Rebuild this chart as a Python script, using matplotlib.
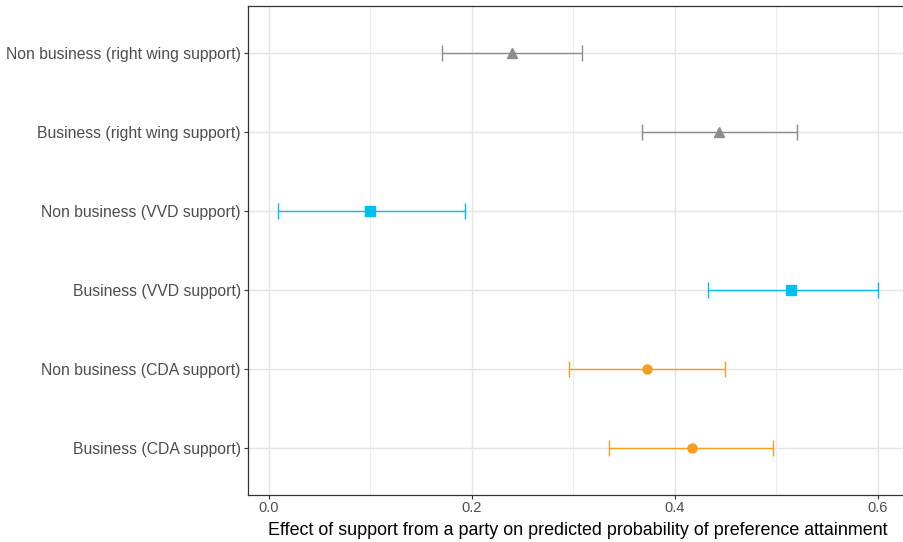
import matplotlib.pyplot as plt
import numpy as np

plt.rcParams['font.family'] = ['Liberation Sans', 'DejaVu Sans']

# rows from top to bottom
labels = ["Non business (right wing support)", "Business (right wing support)",
          "Non business (VVD support)", "Business (VVD support)",
          "Non business (CDA support)", "Business (CDA support)"]
estimate = [0.240, 0.444, 0.100, 0.515, 0.373, 0.417]
lower = [0.171, 0.368, 0.009, 0.433, 0.296, 0.335]
upper = [0.309, 0.521, 0.193, 0.600, 0.450, 0.497]
colors = ["#8C8C8C", "#8C8C8C", "#00BFEF", "#00BFEF", "#F99D1C", "#F99D1C"]
markers = ["^", "^", "s", "s", "o", "o"]

fig = plt.figure(figsize=(9.04, 5.42), dpi=100)
ax = fig.add_axes([247.6 / 904, 1 - 495 / 542, 660 / 904, 489 / 542])

n = len(labels)
ypos = np.arange(n, 0, -1)
for y, est, lo, hi, c, m in zip(ypos, estimate, lower, upper, colors, markers):
    ax.errorbar(est, y, xerr=[[est - lo], [hi - est]], fmt=m, color=c,
                ecolor=c, elinewidth=1.0, capsize=6, capthick=1.0,
                markersize=6.5, zorder=3)

ax.set_xlim(-0.0209, 0.6295)
ax.set_ylim(0.4, n + 0.6)
ax.set_yticks(ypos)
ax.set_yticklabels(labels)
ax.set_xticks([0.0, 0.2, 0.4, 0.6])
ax.set_xticklabels(["0.0", "0.2", "0.4", "0.6"])
ax.set_xticks([0.1, 0.3, 0.5], minor=True)

ax.grid(True, which='major', color='#E5E5E5', linewidth=1.0, zorder=0)
ax.grid(True, which='minor', axis='x', color='#EBEBEB', linewidth=0.8, zorder=0)
ax.set_axisbelow(True)

ax.tick_params(axis='y', which='major', labelsize=11.3, labelcolor='#4D4D4D',
               color='#333333', length=3, width=0.8, pad=2)
ax.tick_params(axis='x', which='major', labelsize=10.5, labelcolor='#4D4D4D',
               color='#333333', length=3, width=0.8, pad=1.5)
ax.tick_params(axis='x', which='minor', length=0)
for s in ax.spines.values():
    s.set_color('#333333')
    s.set_linewidth(0.9)

ax.set_xlabel("Effect of support from a party on predicted probability of preference attainment",
              fontsize=12.9, color='black', labelpad=5)

fig.savefig("out.png", dpi=100)
